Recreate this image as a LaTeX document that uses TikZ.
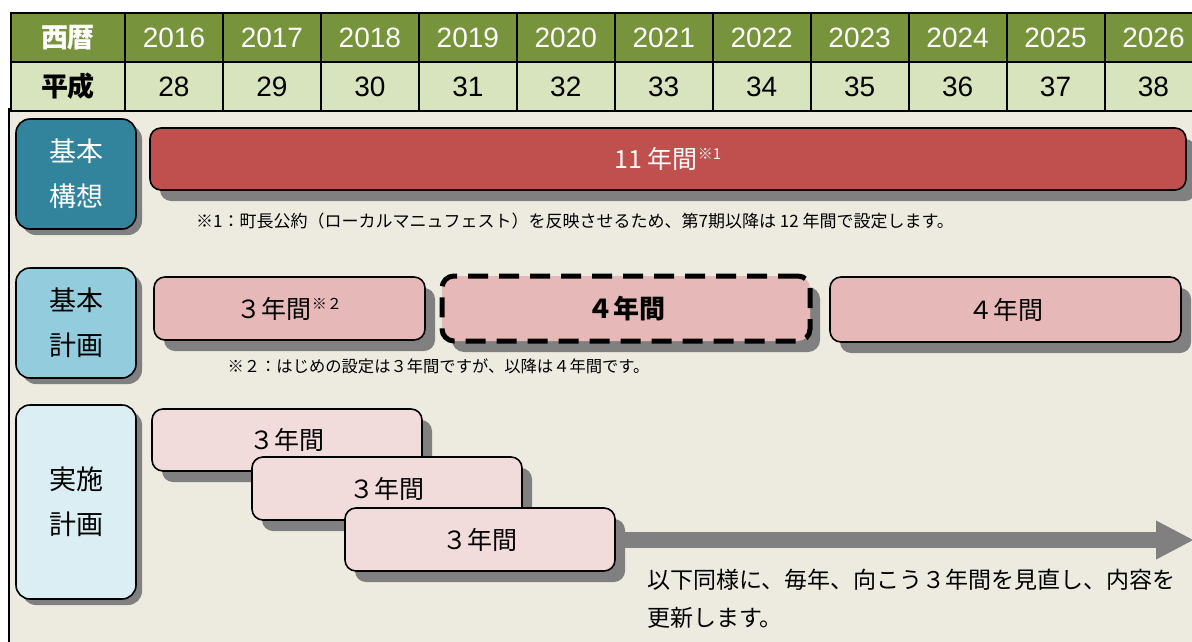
\documentclass[tikz,border=0pt]{standalone}
\usepackage{fontspec}
\setmainfont{Liberation Sans}
\newfontfamily\jp{Noto Sans CJK JP}
\usetikzlibrary{shadows,arrows.meta}
\definecolor{hdr}{HTML}{77933C}
\definecolor{hdrtwo}{HTML}{D7E4BD}
\definecolor{panel}{HTML}{EDEAE0}
\definecolor{tealc}{HTML}{31849B}
\definecolor{lblue}{HTML}{93CDDD}
\definecolor{palec}{HTML}{DAEEF3}
\definecolor{redc}{HTML}{C0504D}
\definecolor{pinkone}{HTML}{E6B9B8}
\definecolor{pinktwo}{HTML}{F2DCDB}
\definecolor{shad}{HTML}{808080}
\tikzset{
  cell/.style={draw=black, line width=2pt, anchor=north west, inner sep=0pt, minimum height=49pt},
  toprow/.style={cell, fill=hdr, text=white, font=\fontsize{28}{30}\selectfont},
  botrow/.style={cell, fill=hdrtwo, text=black, font=\fontsize{28}{30}\selectfont},
  lab/.style={draw=black, line width=1.6pt, rounded corners=14pt, minimum width=120pt, inner sep=0pt, align=center,
    font=\jp\fontsize{27}{45}\selectfont,
    drop shadow={shadow xshift=6pt, shadow yshift=-6pt, fill=shad, opacity=1}},
  bar/.style={draw=black, line width=1.6pt, rounded corners=11pt, inner sep=0pt,
    font=\jp\fontsize{25}{30}\selectfont,
    drop shadow={shadow xshift=10pt, shadow yshift=-11pt, fill=shad, opacity=1}},
  note/.style={font=\jp\fontsize{16.3}{18}\selectfont, inner sep=0pt},
}
\begin{document}
\begin{tikzpicture}[x=1pt,y=-1pt]
\useasboundingbox (0,0) rectangle (1192,641);
\clip (0,0) rectangle (1192,641);
\fill[white] (0,0) rectangle (1192,641);
% panel
\fill[panel] (9,108) rectangle (1210,660);
\draw[line width=2pt] (9,108) -- (9,660);
% table
\node[toprow, minimum width=114pt, font=\jp\bfseries\fontsize{27}{30}\selectfont] (h0) at (10,12) {西暦};
\node[botrow, minimum width=114pt, font=\jp\bfseries\fontsize{27}{30}\selectfont] (r0) at (10,61) {平成};
\foreach \i in {0,...,10}{
  \pgfmathsetmacro{\xx}{124+97.95*\i}
  \pgfmathtruncatemacro{\yr}{2016+\i}
  \pgfmathtruncatemacro{\hs}{28+\i}
  \node[toprow, minimum width=97.95pt] (h\yr) at (\xx,12) {\yr};
  \node[botrow, minimum width=97.95pt] (r\yr) at (\xx,61) {\hs};
}
% left labels
\node[lab, fill=tealc, text=white, minimum height=110pt] (kk) at (76,174) {基本\\構想};
\node[lab, fill=lblue, minimum height=110pt] (kp) at (76,323) {基本\\計画};
\node[lab, fill=palec, minimum height=194pt] (jp) at (76,502) {実施\\計画};
% red bar
\node[bar, fill=redc, text=white, minimum width=1036pt, minimum height=62pt] (vis) at (668,159) {11 年間\textsuperscript{\fontsize{15}{15}\selectfont ※1}};
\node[note, font=\jp\fontsize{17}{18}\selectfont] (fn1) at (575,221) {※1：町長公約（ローカルマニュフェスト）を反映させるため、第7期以降は 12 年間で設定します。};
% basic plans
\node[bar, fill=pinkone, minimum width=271pt, minimum height=63pt] (p1) at (289.5,308.5) {３年間\textsuperscript{\fontsize{15}{15}\selectfont ※２}};
\node[bar, fill=pinkone, draw=black, line width=5pt, dash pattern=on 20pt off 11pt, rounded corners=12pt, minimum width=368pt, minimum height=65pt,
  font=\jp\bfseries\fontsize{26}{30}\selectfont] (p2) at (626,308.5) {４年間};
\node[bar, fill=pinkone, minimum width=351pt, minimum height=65pt] (p3) at (1005.5,309.5) {４年間};
\node[note] (fn2) at (438.5,366) {※２：はじめの設定は３年間ですが、以降は４年間です。};
% implementation plans
\node[bar, fill=pinktwo, minimum width=270pt, minimum height=62pt] (i1) at (287,440) {３年間};
\node[bar, fill=pinktwo, minimum width=270pt, minimum height=63pt] (i2) at (387,488.5) {３年間};
\coordinate (aend) at (1194,540);
\draw[shad, line width=16pt, -{Triangle[length=38pt,width=36pt]}] (480,540) -- (aend);
\node[bar, fill=pinktwo, minimum width=270pt, minimum height=63pt] (i3) at (480,539.5) {３年間};
\node[anchor=west, align=left, inner sep=0pt, font=\jp\fontsize{23}{38}\selectfont] (txt) at (647,599) {以下同様に、毎年、向こう３年間を見直し、内容を\\更新します。};
\end{tikzpicture}
\end{document}
